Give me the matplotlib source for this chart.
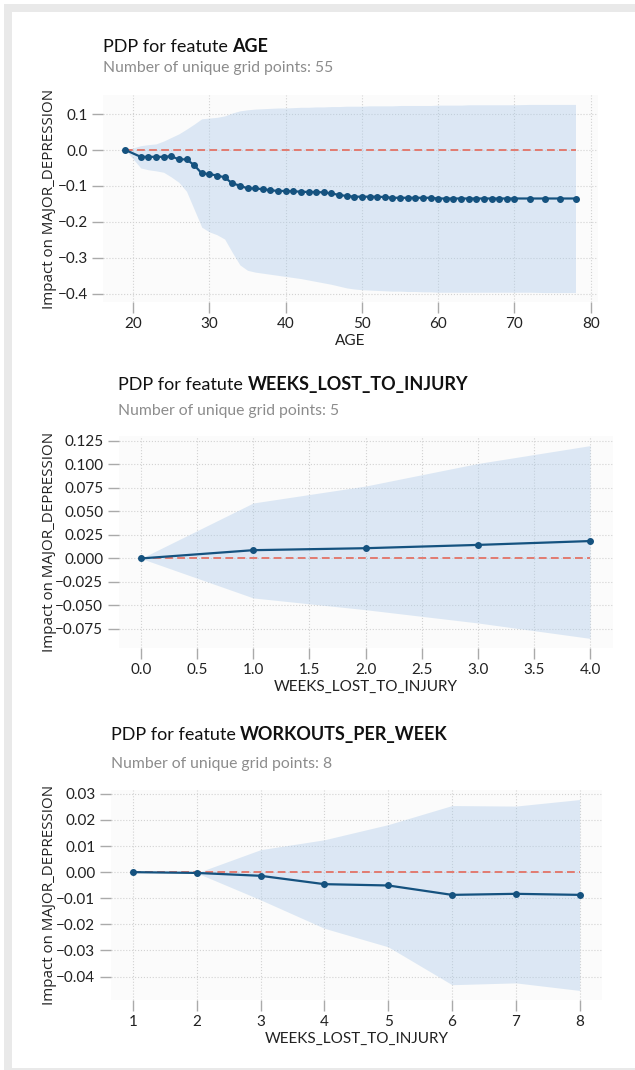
"""
pdp_panels.py
Partial dependence plots of MAJOR_DEPRESSION against three features,
stacked in one tall figure (pdpbox-like look).
"""

import matplotlib.pyplot as plt
from matplotlib.patches import Rectangle
import numpy as np

# figure size in pixels (dpi = 100)
W, H = 635, 1070

# ---------------- data ----------------
# AGE
age_grid = [19,
            21, 22, 23, 24, 25, 26, 27, 28, 29,
            30, 31, 32, 33, 34, 35, 36, 37, 38, 39,
            40, 41, 42, 43, 44, 45, 46, 47, 48, 49,
            50, 51, 52, 53, 54, 55, 56, 57, 58, 59,
            60, 61, 62, 63, 64, 65, 66, 67, 68, 69, 70,
            72, 74, 76, 78]
age_pdp = [0.0,
           -0.019, -0.019, -0.019, -0.019, -0.0175, -0.026, -0.026, -0.042, -0.065,
           -0.067, -0.071, -0.076, -0.093, -0.099, -0.107, -0.107, -0.109, -0.112, -0.114,
           -0.114, -0.115, -0.116, -0.117, -0.117, -0.118, -0.121, -0.125, -0.128, -0.130,
           -0.130, -0.130, -0.130, -0.131, -0.133, -0.133, -0.133, -0.133, -0.133, -0.133,
           -0.135, -0.135, -0.135, -0.135, -0.135, -0.135, -0.135, -0.135, -0.135, -0.135, -0.135,
           -0.135, -0.135, -0.135, -0.135]
age_upper = [0.0,
             0.012, 0.015, 0.017, 0.025, 0.035, 0.045, 0.058, 0.072, 0.087,
             0.089, 0.091, 0.095, 0.103, 0.109, 0.112, 0.114, 0.115, 0.116, 0.117,
             0.117, 0.118, 0.119, 0.119, 0.120, 0.120, 0.121, 0.121, 0.122, 0.122,
             0.122, 0.123, 0.123, 0.123, 0.123, 0.124, 0.124, 0.124, 0.124, 0.124,
             0.125, 0.125, 0.125, 0.125, 0.126, 0.126, 0.126, 0.126, 0.126, 0.126, 0.126,
             0.127, 0.127, 0.127, 0.127]
age_lower = [0.0,
             -0.050, -0.055, -0.058, -0.062, -0.075, -0.090, -0.115, -0.165, -0.215,
             -0.228, -0.236, -0.248, -0.285, -0.320, -0.335, -0.340, -0.343, -0.346, -0.349,
             -0.352, -0.355, -0.358, -0.362, -0.366, -0.370, -0.374, -0.379, -0.384, -0.387,
             -0.389, -0.390, -0.391, -0.392, -0.393, -0.393, -0.394, -0.394, -0.395, -0.395,
             -0.396, -0.396, -0.396, -0.396, -0.396, -0.396, -0.396, -0.396, -0.396, -0.396, -0.396,
             -0.396, -0.397, -0.397, -0.397]
age_xticks = [20, 30, 40, 50, 60, 70, 80]
age_yticks = [0.1, 0.0, -0.1, -0.2, -0.3, -0.4]

# WEEKS_LOST_TO_INJURY
weeks_grid = [0, 1, 2, 3, 4]
weeks_pdp = [0.0, 0.0088, 0.0109, 0.0144, 0.0185]
weeks_upper = [0.0, 0.059, 0.077, 0.101, 0.120]
weeks_lower = [0.0, -0.042, -0.0545, -0.0686, -0.085]
weeks_xticks = [0.0, 0.5, 1.0, 1.5, 2.0, 2.5, 3.0, 3.5, 4.0]
weeks_yticks = [0.125, 0.100, 0.075, 0.050, 0.025, 0.000, -0.025, -0.050, -0.075]

# WORKOUTS_PER_WEEK
workouts_grid = [1, 2, 3, 4, 5, 6, 7, 8]
workouts_pdp = [0.0, -0.0003, -0.0014, -0.0046, -0.0051, -0.0087, -0.0083, -0.0087]
workouts_upper = [0.0, -0.0003, 0.0086, 0.0124, 0.0182, 0.0255, 0.0253, 0.0278]
workouts_lower = [0.0, -0.0003, -0.0106, -0.0215, -0.0286, -0.0431, -0.0424, -0.0453]
workouts_xticks = [1, 2, 3, 4, 5, 6, 7, 8]
workouts_yticks = [0.03, 0.02, 0.01, 0.00, -0.01, -0.02, -0.03, -0.04]

features = ['AGE', 'WEEKS_LOST_TO_INJURY', 'WORKOUTS_PER_WEEK']

# ---------------- style ----------------
NARROW = ['Lato', 'DejaVu Sans']
LABEL_FONT = ['Open Sans', 'DejaVu Sans']
LINE_C = '#15527f'
FILL_C = '#aecbea'
ZERO_C = '#e27b70'
GRID_C = '#d2d2d2'
TICK_C = '#aaaaaa'


def px_box(left, top, right, bottom):
    """axes rectangle given in pixels from the top-left corner"""
    return [left / W, 1 - bottom / H, (right - left) / W, (bottom - top) / H]


def fx(x):
    return x / W


def fy(y):
    return 1 - y / H


def pdp_panel(fig, box, grid, pdp, lower, upper, xlabel,
              xticks, yticks, yfmt, title_y, sub_y):
    """
    one PDP panel: confidence band, zero line, pdp line with markers,
    plus the plain part of the title and the grid-point subtitle.
    Returns the axes and the title text (the bold part is added later).
    """
    ax = fig.add_axes(px_box(*box))
    ax.set_facecolor('#fbfbfb')
    ax.set_axisbelow(True)

    ax.fill_between(grid, lower, upper, color=FILL_C, alpha=0.4,
                    linewidth=0, zorder=1)
    ax.plot(grid, np.zeros(len(grid)), color=ZERO_C, linestyle=(0, (4, 2.2)),
            linewidth=1.4, zorder=2)
    ax.plot(grid, pdp, color=LINE_C, linewidth=1.6, marker='o',
            markersize=4, zorder=3)

    ax.set_xticks(xticks)
    ax.set_yticks(yticks)
    ax.set_yticklabels([yfmt.format(v).replace('-', '\u2212') for v in yticks])
    ax.margins(0.05)

    for s in ax.spines.values():
        s.set_visible(False)
    ax.grid(True, linestyle=':', color=GRID_C, linewidth=0.8)
    ax.tick_params(axis='both', length=8, width=1, color=TICK_C,
                   labelsize=11, labelcolor='#222222', pad=3)
    for lab in ax.get_xticklabels() + ax.get_yticklabels():
        lab.set_family(NARROW)

    ax.set_xlabel(xlabel, fontsize=11, family=NARROW, color='#222222',
                  labelpad=2)

    # y label centred on the axes, at a fixed distance from the figure edge
    cy = (box[1] + box[3]) / 2
    fig.text(fx(50), fy(cy), 'Impact on MAJOR_DEPRESSION', rotation=90,
             ha='center', va='center', fontsize=10.9, family=LABEL_FONT,
             color='#222222')

    t = fig.text(fx(box[0]), fy(title_y), 'PDP for featute ', fontsize=13,
                 family=NARROW, va='bottom', color='#111111')
    fig.text(fx(box[0]), fy(sub_y),
             'Number of unique grid points: %d' % len(grid),
             fontsize=11.3, family=NARROW, va='baseline', color='#8c8c8c')
    return ax, t


fig = plt.figure(figsize=(W / 100, H / 100), dpi=100, facecolor='white')

# light grey frame round the white page
fig.patches.append(Rectangle((fx(4), 0), 1 - fx(4), fy(4), transform=fig.transFigure,
                             facecolor='#e9e9e9', edgecolor='none', zorder=-2))
fig.patches.append(Rectangle((fx(12), fy(1068)), 1 - fx(12), fy(12) - fy(1068),
                             transform=fig.transFigure, facecolor='white',
                             edgecolor='none', zorder=-1))

panels = []
panels.append(pdp_panel(fig, (103, 95, 598, 302), age_grid, age_pdp,
                        age_lower, age_upper, 'AGE', age_xticks, age_yticks,
                        '{:.1f}', 55, 72))
panels.append(pdp_panel(fig, (118.5, 436, 612.5, 648),
                        weeks_grid, weeks_pdp, weeks_lower, weeks_upper,
                        'WEEKS_LOST_TO_INJURY', weeks_xticks, weeks_yticks,
                        '{:.3f}', 393, 415))
panels.append(pdp_panel(fig, (110.6, 790, 602, 1000),
                        workouts_grid, workouts_pdp, workouts_lower,
                        workouts_upper, 'WEEKS_LOST_TO_INJURY',
                        workouts_xticks, workouts_yticks, '{:.2f}', 743, 768))

# bold feature names go right after the plain part of each title
fig.canvas.draw()
renderer = fig.canvas.get_renderer()
for (ax, t), feature in zip(panels, features):
    bb = t.get_window_extent(renderer).transformed(fig.transFigure.inverted())
    fig.text(bb.x1, bb.y0, feature, fontsize=13, family=NARROW, weight='bold',
             color='#111111', va='bottom', ha='left')

fig.savefig('out.png', dpi=100)
